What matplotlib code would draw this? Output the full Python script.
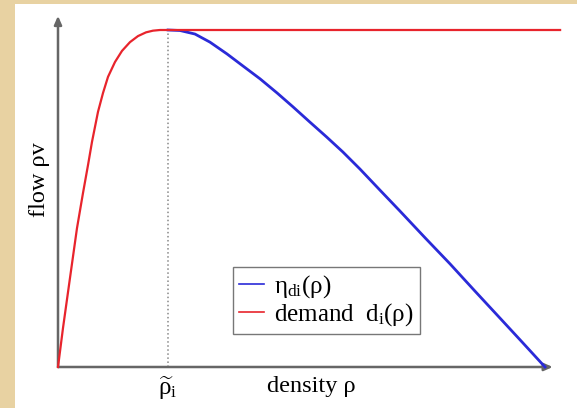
import numpy as np
import matplotlib
matplotlib.use("Agg")
import matplotlib.pyplot as plt

plt.rcParams['font.family'] = ['Liberation Serif', 'DejaVu Serif']
# upright serif glyphs for the math labels too
plt.rcParams['mathtext.fontset'] = 'custom'
plt.rcParams['mathtext.rm'] = 'Liberation Serif'
plt.rcParams['mathtext.it'] = 'Liberation Serif'
plt.rcParams['mathtext.bf'] = 'Liberation Serif:bold'

# demand branch (rising part of the flux up to the critical density)
rho_up = [0.0, 0.0103, 0.0246, 0.039, 0.0513, 0.0616, 0.0698, 0.0821, 0.0924, 0.1027,
          0.117, 0.1314, 0.1478, 0.1643, 0.1807, 0.195, 0.2094, 0.226]
q_up = [0.0, 0.116, 0.264, 0.412, 0.516, 0.599, 0.668, 0.757, 0.813, 0.861,
        0.905, 0.938, 0.964, 0.982, 0.993, 0.998, 1.0, 1.0]

# eta branch (decreasing part past the critical density)
rho_down = [0.226, 0.2505, 0.2813, 0.312, 0.347, 0.380, 0.415, 0.450, 0.4825, 0.517, 0.552,
            0.585, 0.620, 0.661, 0.702, 0.754, 0.805, 0.856, 0.9076, 0.953, 1.0]
q_down = [1.0, 0.9985, 0.988, 0.964, 0.929, 0.893, 0.855, 0.813, 0.772, 0.727, 0.682,
          0.638, 0.5875, 0.525, 0.463, 0.383, 0.306, 0.2255, 0.145, 0.074, 0.0]

rho_crit = 0.226
rho_end = 1.031
q_max = 1.0

fig = plt.figure(figsize=(5.77, 4.08), dpi=100)
fig.patch.set_facecolor('#e8d2a2')

# white slide panel behind the plot
bg = fig.add_axes([15 / 577, 0, 1 - 15 / 577, 1 - 4 / 408], zorder=0)
bg.set_facecolor('white')
bg.set_xticks([])
bg.set_yticks([])
for s in bg.spines.values():
    s.set_visible(False)

ax = fig.add_axes([0, 0, 1, 1], zorder=1)
ax.patch.set_alpha(0)
ax.set_xlim(-58 / 487, 519 / 487)
ax.set_ylim(-41 / 337, 367 / 337)
ax.set_xticks([])
ax.set_yticks([])
for s in ax.spines.values():
    s.set_visible(False)

# axes with arrow heads
axis_kw = dict(arrowstyle='-|>,head_length=0.5,head_width=0.22', color='#666666', lw=1.8,
               shrinkA=0, shrinkB=0)
ax.annotate('', xy=(1.016, 0), xytext=(0, 0), arrowprops=axis_kw)
ax.annotate('', xy=(0, 1.042), xytext=(0, 0), arrowprops=axis_kw)

ax.plot([rho_crit, rho_crit], [0, q_max], color='#888888', ls=':', lw=1.1)

ax.plot(rho_down, q_down, color='#2a2ad8', lw=2.0, zorder=3, label=r'$\eta_{di}(\rho)$')
ax.plot(rho_up + [rho_end], q_up + [q_max], color='#e8242c', lw=1.6, zorder=4,
        label=r'demand  $d_{i}(\rho)$')

ax.text(rho_crit, -0.022, r'$\widetilde{\rho}_{i}$', ha='center', va='top', fontsize=18)
ax.text(0.52, -0.028, 'density ρ', ha='center', va='top', fontsize=17.5)
ax.text(-0.037, 0.555, 'flow ρv', ha='center', va='center', rotation=90, fontsize=17.5)

leg = ax.legend(loc='upper left', bbox_to_anchor=(233 / 577, 1 - 267 / 408),
                bbox_transform=fig.transFigure, borderaxespad=0, fontsize=18,
                handlelength=1.0, handletextpad=0.4, labelspacing=0.05,
                borderpad=0.25, fancybox=False, framealpha=1)
leg.get_frame().set_edgecolor('#777777')
leg.get_frame().set_linewidth(1.0)
for line in leg.get_lines():
    line.set_linewidth(1.2)

fig.savefig('out.png', dpi=100, facecolor=fig.get_facecolor())
